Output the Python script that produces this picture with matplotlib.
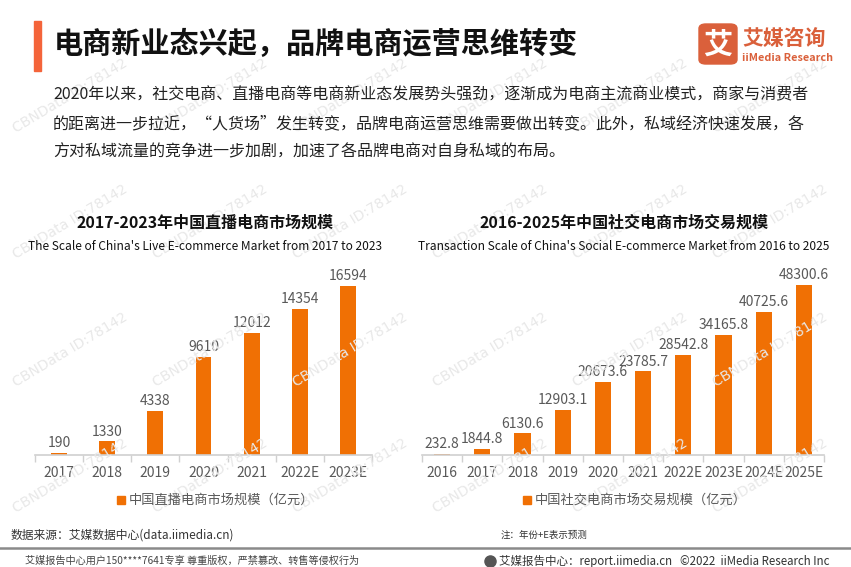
import matplotlib
matplotlib.use("Agg")
import matplotlib.pyplot as plt
from matplotlib.patches import FancyBboxPatch, Rectangle

plt.rcParams['font.family'] = ['Noto Sans CJK SC', 'DejaVu Sans']

# data
live_years = ['2017', '2018', '2019', '2020', '2021', '2022E', '2023E']
live_values = [190, 1330, 4338, 9610, 12012, 14354, 16594]
live_labels = ['190', '1330', '4338', '9610', '12012', '14354', '16594']

social_years = ['2016', '2017', '2018', '2019', '2020', '2021', '2022E', '2023E', '2024E', '2025E']
social_values = [232.8, 1844.8, 6130.6, 12903.1, 20673.6, 23785.7, 28542.8, 34165.8, 40725.6, 48300.6]
social_labels = ['232.8', '1844.8', '6130.6', '12903.1', '20673.6', '23785.7', '28542.8', '34165.8', '40725.6', '48300.6']

W, H = 851, 567
BAR = '#F07004'
GRAY = '#595959'

fig = plt.figure(figsize=(W / 100, H / 100), dpi=100)
fig.patch.set_facecolor('white')


def fx(x):
    return x / W


def fy(y):
    return 1 - y / H


def txt(x, y, s, **kw):
    fig.text(fx(x), fy(y), s, **kw)


# watermarks
for wy in [96, 222, 350, 476]:
    for wx in [70, 210, 350, 490, 630, 770]:
        txt(wx, wy, 'CBNData ID:78142', fontsize=10, color='#e8e8e8', rotation=31,
            ha='center', va='center', family='DejaVu Sans', zorder=0)

# header
fig.patches.append(Rectangle((fx(34), fy(71)), fx(7), (71 - 21) / H, transform=fig.transFigure,
                             color='#F4643A', zorder=2))
txt(54, 44, '电商新业态兴起，品牌电商运营思维转变', fontsize=21, fontweight='bold',
    color='#111111', va='center')

# logo
fig.patches.append(FancyBboxPatch((fx(699), fy(64)), fx(38), 40 / H, transform=fig.transFigure,
                                  boxstyle='round,pad=0,rounding_size=0.008', color='#DA603B', zorder=2))
txt(718, 45, '艾', fontsize=21, fontweight='bold', color='white', ha='center', va='center', zorder=3)
txt(742, 38, '艾媒咨询', fontsize=15, fontweight='bold', color='#DA603B', va='center')
txt(742, 58, 'iiMedia Research', fontsize=7.8, fontweight='bold', color='#DA603B', va='center')

body = ['2020年以来，社交电商、直播电商等电商新业态发展势头强劲，逐渐成为电商主流商业模式，商家与消费者',
        '的距离进一步拉近，“人货场”发生转变，品牌电商运营思维需要做出转变。此外，私域经济快速发展，各',
        '方对私域流量的竞争进一步加剧，加速了各品牌电商对自身私域的布局。']
for i, line in enumerate(body):
    txt(53, 95 + i * 28.5, line, fontsize=11.5, color='#222222', va='center')


def bar_chart(left, right, cats, vals, labels, ymax, width, title, subtitle, legend, cx, lx):
    top = 270
    base = 455
    ax = fig.add_axes([fx(left), fy(base), (right - left) / W, (base - top) / H])
    x = range(len(cats))
    ax.bar(x, vals, width=width, color=BAR, zorder=2)
    for xi, v, s in zip(x, vals, labels):
        ax.text(xi, v + ymax * 0.015, s, ha='center', va='bottom', fontsize=10, color=GRAY)
    ax.set_xlim(-0.5, len(cats) - 0.5)
    ax.set_ylim(0, ymax)
    ax.set_yticks([])
    for sp in ['top', 'right', 'left']:
        ax.spines[sp].set_visible(False)
    ax.spines['bottom'].set_color('#d0d0d0')
    ax.spines['bottom'].set_linewidth(1.2)
    ax.set_xticks(list(x))
    ax.set_xticklabels(cats, fontsize=10, color=GRAY)
    ax.tick_params(axis='x', length=0, pad=8)
    ax.set_xticks([i - 0.5 for i in range(len(cats) + 1)], minor=True)
    ax.tick_params(axis='x', which='minor', length=5, color='#d0d0d0', width=1)
    ax.patch.set_alpha(0)
    txt(cx, 223, title, fontsize=11.5, fontweight='bold', color='#111111', ha='center', va='center')
    txt(cx, 247, subtitle, fontsize=8.6, color='#111111', ha='center', va='center')
    fig.patches.append(Rectangle((fx(lx), fy(504)), fx(8), 8 / H, transform=fig.transFigure,
                                 color=BAR))
    txt(lx + 12, 500, legend, fontsize=9.5, color=GRAY, va='center')


bar_chart(35, 372, live_years, live_values, live_labels, 16594 * 185 / 169, 0.33,
          '2017-2023年中国直播电商市场规模',
          "The Scale of China's Live E-commerce Market from 2017 to 2023",
          '中国直播电商市场规模（亿元）', 205, 117)

bar_chart(422, 824, social_years, social_values, social_labels, 48300.6 * 185 / 170, 0.4,
          '2016-2025年中国社交电商市场交易规模',
          "Transaction Scale of China's Social E-commerce Market from 2016 to 2025",
          '中国社交电商市场交易规模（亿元）', 624, 523)

# footer
txt(11, 535, '数据来源：艾媒数据中心(data.iimedia.cn)', fontsize=8.5, color='#333333', va='center')
txt(501, 535, '注：年份+E表示预测', fontsize=6.8, color='#333333', va='center')
fig.add_artist(plt.Line2D([0, 1], [fy(548), fy(548)], transform=fig.transFigure,
                          color='#8a8a8a', linewidth=1.8))
txt(25, 561, '艾媒报告中心用户150****7641专享 尊重版权，严禁篡改、转售等侵权行为',
    fontsize=7.3, color='#444444', va='center')
fig.add_artist(plt.Line2D([fx(490)], [fy(561)], transform=fig.transFigure, marker='o',
                          markersize=8, color='#555555'))
txt(499, 561, '艾媒报告中心：report.iimedia.cn   ©2022  iiMedia Research Inc',
    fontsize=8.3, color='#333333', va='center')

fig.savefig('out.png', dpi=100)
